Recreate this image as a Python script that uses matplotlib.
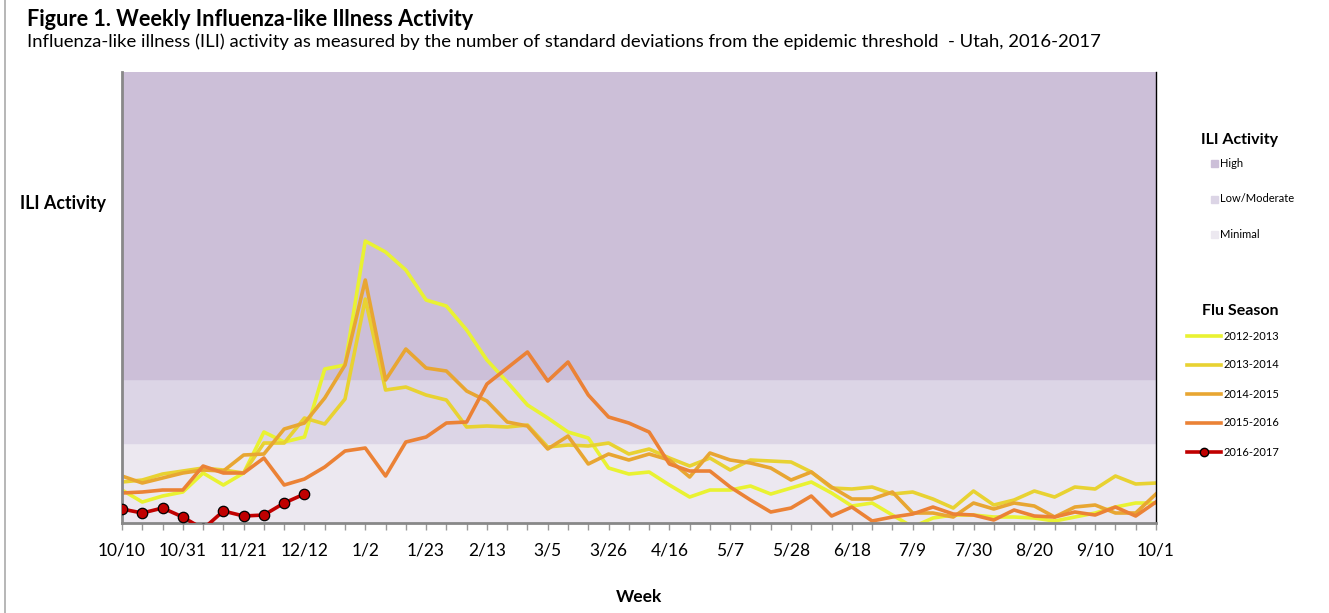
import matplotlib.pyplot as plt
import numpy as np
from matplotlib.lines import Line2D
from matplotlib.patches import Rectangle

plt.rcParams['font.family'] = ['Lato', 'DejaVu Sans']

# week labels shown every 3 weeks (52 weeks, 10/10 .. 10/1)
tick_labels = ["10/10", "10/31", "11/21", "12/12", "1/2", "1/23", "2/13", "3/5",
               "3/26", "4/16", "5/7", "5/28", "6/18", "7/9", "7/30", "8/20",
               "9/10", "10/1"]
n_weeks = 52

# ILI activity bands (upper bounds)
minimal_top = 8.0
lowmod_top = 14.4
high_top = 45.1

s2012 = [3.3, 2.1, 2.7, 3.1, 5.0, 3.8, 5.0, 9.1, 8.1, 8.6, 15.4, 15.8, 28.2, 27.1,
         25.3, 22.3, 21.7, 19.3, 16.3, 14.1, 11.8, 10.5, 9.1, 8.5, 5.5, 4.9, 5.1,
         3.8, 2.6, 3.3, 3.3, 3.7, 2.9, 3.5, 4.1, 3.0, 1.7, 2.0, 0.8, -0.4, 0.5, 0.8,
         0.8, 0.6, 0.6, 0.5, 0.2, 0.6, 1.0, 1.6, 2.0, 2.0]
s2013 = [4.1, 4.3, 4.9, 5.2, 5.5, 5.3, 5.0, 8.0, 8.0, 10.5, 9.9, 12.4, 22.4, 13.3,
         13.6, 12.8, 12.3, 9.6, 9.7, 9.6, 9.8, 7.6, 7.8, 7.7, 8.0, 6.9, 7.4, 6.5,
         5.7, 6.5, 5.3, 6.3, 6.2, 6.1, 5.1, 3.5, 3.4, 3.6, 2.9, 3.1, 2.4, 1.5, 3.2,
         1.8, 2.3, 3.2, 2.6, 3.6, 3.4, 4.7, 3.9, 4.0]
s2014 = [4.7, 4.0, 4.5, 5.0, 5.3, 5.2, 6.8, 6.9, 9.4, 10.0, 12.5, 15.8, 24.3, 14.3,
         17.4, 15.5, 15.2, 13.2, 12.2, 10.1, 9.7, 7.4, 8.7, 5.9, 6.9, 6.3, 6.9, 6.3,
         4.6, 7.0, 6.3, 6.0, 5.5, 4.3, 5.1, 3.6, 2.4, 2.4, 3.1, 1.0, 1.0, 0.6, 2.0,
         1.4, 2.0, 1.7, 0.6, 1.6, 1.8, 1.0, 1.0, 2.9]
s2015 = [3.0, 3.1, 3.3, 3.3, 5.7, 5.0, 5.0, 6.5, 3.8, 4.4, 5.6, 7.2, 7.5, 4.7, 8.1,
         8.6, 10.0, 10.1, 13.9, 15.5, 17.1, 14.2, 16.1, 12.8, 10.6, 10.0, 9.1, 5.9,
         5.2, 5.2, 3.6, 2.3, 1.1, 1.5, 2.7, 0.7, 1.6, 0.2, 0.6, 0.9, 1.6, 0.9, 0.8,
         0.3, 1.3, 0.7, 0.6, 1.1, 0.8, 1.6, 0.7, 2.1]
s2016 = [1.4, 1.0, 1.5, 0.6, -0.6, 1.2, 0.7, 0.8, 2.0, 2.9]

seasons = ["2012-2013", "2013-2014", "2014-2015", "2015-2016", "2016-2017"]
colors = ["#E9F232", "#E8D232", "#E8A632", "#EB8236", "#C00000"]
band_names = ["High", "Low/Moderate", "Minimal"]
band_colors = ["#CCBFD8", "#DCD5E6", "#ECE8F0"]

W, H = 1329, 613
fig = plt.figure(figsize=(W / 100, H / 100), dpi=100)
ax = fig.add_axes([0.0918, 0.1468, 0.778, 0.7357])


def fx(px):
    return px / W


def fy(py):
    return 1 - py / H


ax.axhspan(0, minimal_top, color=band_colors[2], zorder=0)
ax.axhspan(minimal_top, lowmod_top, color=band_colors[1], zorder=0)
ax.axhspan(lowmod_top, high_top, color=band_colors[0], zorder=0)

weeks = np.arange(n_weeks)
for data, c in zip([s2012, s2013, s2014, s2015], colors[:4]):
    ax.plot(weeks[:len(data)], data, color=c, lw=2.6, zorder=2)
ax.plot(weeks[:len(s2016)], s2016, color=colors[4], lw=2.6, marker="o", ms=7.5,
        mfc="#C00000", mec="black", mew=0.9, zorder=3)

ax.set_xlim(0, n_weeks - 1)
ax.set_ylim(0, high_top)
ax.set_yticks([])
ax.set_xticks(np.arange(0, n_weeks, 3))
ax.set_xticklabels(tick_labels, fontsize=12.5)
ax.set_xticks(weeks, minor=True)
ax.tick_params(axis="x", which="both", length=5, color="#999999", width=1, pad=9)

for side in ["left", "bottom"]:
    ax.spines[side].set_color("#888888")
    ax.spines[side].set_linewidth(2)
ax.spines["top"].set_visible(False)
ax.spines["right"].set_color("black")
ax.spines["right"].set_linewidth(1)

ax.set_xlabel("Week", fontsize=12.5, fontweight="bold", labelpad=22)
fig.text(fx(20), fy(204), "ILI Activity", fontsize=12.8, fontweight="bold", va="center")

fig.text(fx(27), fy(19), "Figure 1. Weekly Influenza-like Illness Activity",
         fontsize=15.6, fontweight="bold", va="center")
fig.text(fx(27), fy(42), "Influenza-like illness (ILI) activity as measured by the number "
         "of standard deviations from the epidemic threshold  - Utah, 2016-2017",
         fontsize=13.3, va="center")

# left border line of the figure
fig.add_artist(Line2D([0.004, 0.004], [0, 1], color="#AAAAAA", lw=1.2))

# legend: ILI activity bands
fig.text(fx(1240), fy(140), "ILI Activity", fontsize=11.5, fontweight="bold",
         ha="center", va="center")
for name, c, py in zip(band_names, band_colors, [164, 199, 235]):
    fig.add_artist(Rectangle((fx(1211), fy(py + 3.5)), fx(7), 7 / H, color=c))
    fig.text(fx(1220), fy(py), name, fontsize=8, va="center")

# legend: flu seasons
fig.text(fx(1240), fy(311), "Flu Season", fontsize=11.5, fontweight="bold",
         ha="center", va="center")
for i, (name, c, py) in enumerate(zip(seasons, colors, [336, 365, 394, 423, 452])):
    fig.add_artist(Line2D([fx(1187), fx(1221)], [fy(py), fy(py)], color=c, lw=2.6))
    if i == 4:
        fig.add_artist(Line2D([fx(1204)], [fy(py)], marker="o", ms=6, mfc="#C00000",
                              mec="black", lw=0))
    fig.text(fx(1224), fy(py), name, fontsize=8, va="center")

fig.savefig("out.png", dpi=100)
